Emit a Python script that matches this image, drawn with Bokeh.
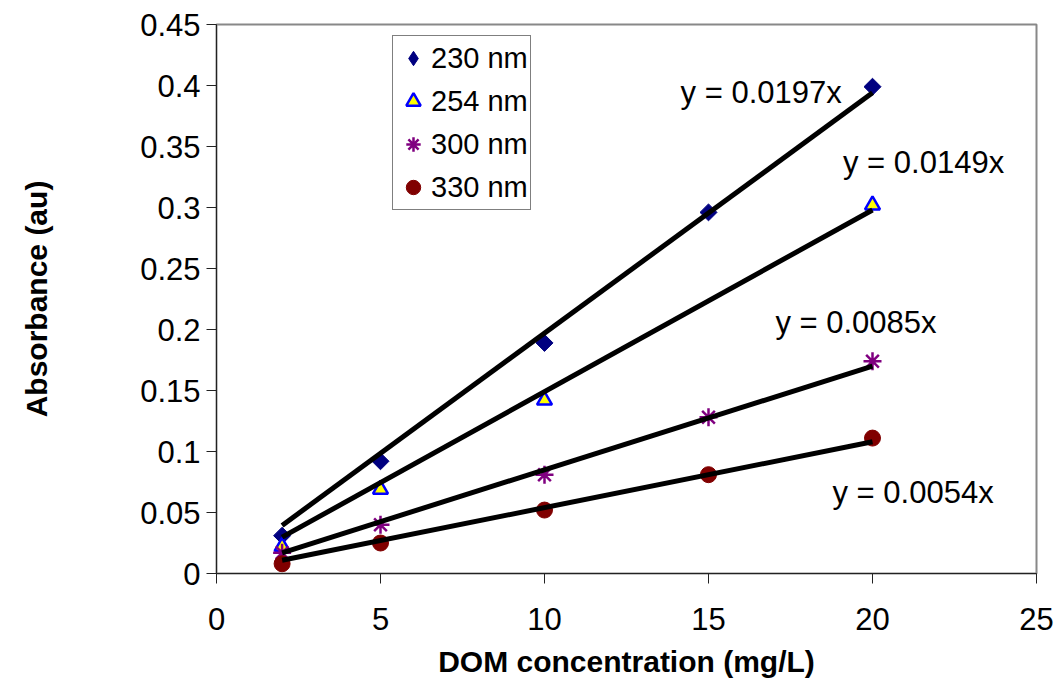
import math
from bokeh.plotting import figure
from bokeh.models import Range1d, FixedTicker, Label, Legend, LegendItem
from bokeh.embed import file_html
from bokeh.resources import INLINE

# DOM concentration (mg/L)
conc = [2, 5, 10, 15, 20]
conc_254 = [2, 5, 10, 20]

# Absorbance (au) per wavelength
abs_230 = [0.031, 0.092, 0.189, 0.296, 0.399]
abs_254 = [0.022, 0.069, 0.142, 0.302]
abs_300 = [0.017, 0.040, 0.081, 0.128, 0.174]
abs_330 = [0.008, 0.025, 0.052, 0.081, 0.111]

# Slopes of the zero-intercept linear fits
slopes = [0.0197, 0.0149, 0.0085, 0.0054]
fit_x = [2, 20]

x_ticks = [0, 5, 10, 15, 20, 25]
y_ticks = [0, 0.05, 0.1, 0.15, 0.2, 0.25, 0.3, 0.35, 0.4, 0.45]
y_tick_labels = ["0", "0.05", "0.1", "0.15", "0.2", "0.25", "0.3", "0.35", "0.4", "0.45"]

FONT = "Liberation Sans"

p = figure(width=1057, height=690, output_backend="svg", toolbar_location=None,
           x_range=Range1d(0, 25), y_range=Range1d(0, 0.45),
           min_border_left=216, min_border_right=21, min_border_top=24,
           min_border_bottom=117)
p.background_fill_color = "white"
p.border_fill_color = "white"
p.outline_line_color = "#888888"
p.outline_line_width = 2
p.xgrid.visible = False
p.ygrid.visible = False

for ax in (p.xaxis[0], p.yaxis[0]):
    ax.axis_line_color = "#222222"
    ax.axis_line_width = 1
    ax.major_tick_line_color = "#222222"
    ax.major_tick_out = 10
    ax.major_tick_in = 0
    ax.minor_tick_out = 0
    ax.minor_tick_in = 0
    ax.major_label_text_font = FONT
    ax.major_label_text_font_size = "31px"
    ax.major_label_text_color = "black"
    ax.axis_label_text_font = FONT
    ax.axis_label_text_font_size = "30px"
    ax.axis_label_text_font_style = "bold"
    ax.axis_label_text_color = "black"

p.xaxis.ticker = FixedTicker(ticks=x_ticks)
p.yaxis.ticker = FixedTicker(ticks=y_ticks)
p.yaxis.major_label_overrides = {t: s for t, s in zip(y_ticks, y_tick_labels)}
p.xaxis.major_label_standoff = 24
p.yaxis.major_label_standoff = 6
p.xaxis.axis_label = "DOM concentration (mg/L)"
p.yaxis.axis_label = "Absorbance (au)"
p.xaxis.axis_label_standoff = 12
p.yaxis.axis_label_standoff = 84

# 230 nm: a narrow diamond (used as the legend swatch) under a rotated square
r230 = p.scatter(conc, abs_230, marker="diamond", size=14,
                 fill_color="#000080", line_color="#000080")
p.scatter(conc, abs_230, marker="square", size=12, angle=math.pi / 4,
          fill_color="#000080", line_color="#000080")
r254 = p.scatter(conc_254, abs_254, marker="triangle", size=15, fill_color="#FFFF00",
                 line_color="#0000FF", line_width=2.5)
r300 = p.scatter(conc, abs_300, marker="asterisk", size=18, line_color="#800080",
                 line_width=2.5)
r330 = p.scatter(conc, abs_330, marker="circle", size=16, fill_color="#800000",
                 line_color="#800000")

# Linear fits through the origin
for k in slopes:
    p.line(fit_x, [k * x for x in fit_x], line_color="black", line_width=5)

eq_pos = [(14.15, 0.394), (19.1, 0.337), (17.04, 0.206), (18.78, 0.066)]
for k, (lx, ly) in zip(slopes, eq_pos):
    p.add_layout(Label(x=lx, y=ly, text=f"y = {k}x", text_font=FONT,
                       text_font_size="31px", text_color="black",
                       text_baseline="middle", text_align="left"))

legend = Legend(items=[
    LegendItem(label="230 nm", renderers=[r230]),
    LegendItem(label="254 nm", renderers=[r254]),
    LegendItem(label="300 nm", renderers=[r300]),
    LegendItem(label="330 nm", renderers=[r330]),
], location=(176, 363))
legend.label_text_font = FONT
legend.label_text_font_size = "29px"
legend.label_text_color = "black"
legend.border_line_color = "black"
legend.border_line_width = 1
legend.background_fill_color = "white"
legend.background_fill_alpha = 1
legend.padding = 2
legend.margin = 0
legend.spacing = 3
legend.glyph_width = 36
legend.glyph_height = 40
legend.label_height = 40
legend.label_standoff = 0
p.add_layout(legend, "center")

open("out.html", "w").write(file_html(p, INLINE))
